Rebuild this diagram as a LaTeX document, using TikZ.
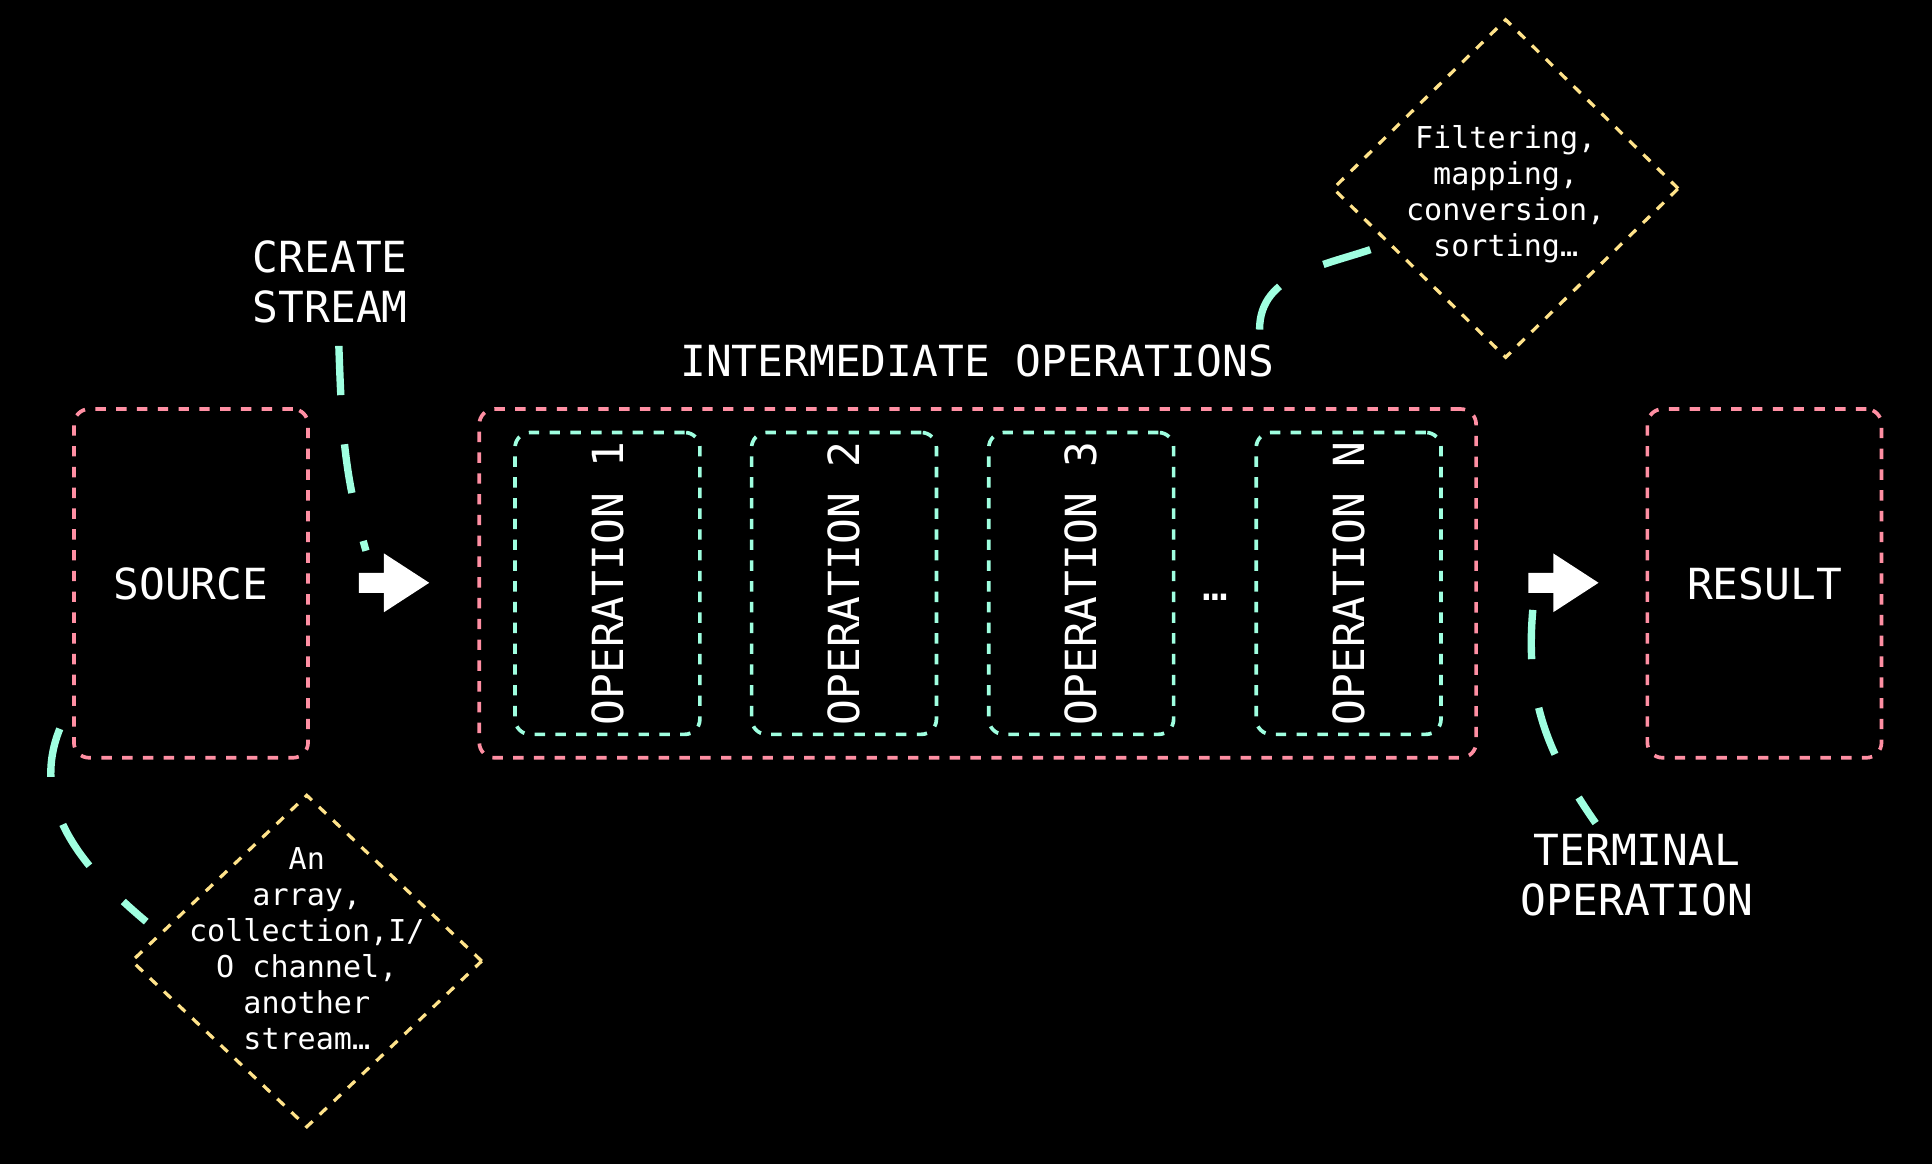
\documentclass[tikz,border=0pt]{standalone}
\usepackage{fontspec}
\setmonofont{DejaVu Sans Mono}
\usepackage{tikz}
\usetikzlibrary{shapes.geometric,shapes.arrows}
\definecolor{rosepink}{HTML}{FF8FA3}
\definecolor{mint}{HTML}{9FFFE0}
\definecolor{sand}{HTML}{FFE38A}
\newcommand{\stagefont}{\ttfamily\fontsize{19.8}{23}\selectfont}
\newcommand{\notefont}{\ttfamily\fontsize{13.9}{16.7}\selectfont}
\tikzset{
  stagebox/.style={draw=rosepink,line width=1.7pt,dash pattern=on 4.8pt off 4.8pt,rounded corners=7pt,minimum height=5.66cm,inner sep=0pt,text=white,font=\stagefont},
  opbox/.style={draw=mint,line width=1.7pt,dash pattern=on 4.8pt off 4.8pt,rounded corners=7pt,minimum width=3cm,minimum height=4.9cm},
  notebox/.style={diamond,draw=sand,line width=1.5pt,dash pattern=on 4.5pt off 4.5pt,inner sep=0pt},
  notetext/.style={text=white,align=center,font=\notefont,inner sep=0pt},
  caption/.style={text=white,align=center,inner sep=0pt,font=\stagefont},
  link/.style={draw=mint,line width=3.4pt,dash pattern=on 0.8cm off 0.8cm},
  flowarrow/.style={single arrow,fill=white,draw=none,inner xsep=0pt,inner ysep=0.155cm,minimum height=1.14cm,minimum width=0.94cm,single arrow head extend=0.315cm,single arrow tip angle=66}
}

\begin{document}
\begin{tikzpicture}
            \fill[black] (0,0) rectangle (31.36,18.9);
            \useasboundingbox (0,0) rectangle (31.36,18.9);

            % Source
            \node[stagebox,minimum width=3.8cm] (src) at (3.1,9.43) {SOURCE};
            \node[caption] (cs) at (5.36,14.32) {CREATE\\STREAM};
            \node[flowarrow,anchor=tail] (arr1) at (5.82,9.44) {};

            % Intermediate operations
            \node[stagebox,minimum width=16.18cm] (mid) at (15.87,9.43) {};
            \node[caption] (it) at (15.86,13.04) {INTERMEDIATE OPERATIONS};
            \node[opbox] (op1) at (9.86,9.43) {};
            \node[caption,rotate=90] at (op1.center) {OPERATION 1};
            \node[opbox] (op2) at (13.7,9.43) {};
            \node[caption,rotate=90] at (op2.center) {OPERATION 2};
            \node[opbox] (op3) at (17.55,9.43) {};
            \node[caption,rotate=90] at (op3.center) {OPERATION 3};
            \node[caption,anchor=base] (dots) at (19.72,9.16) {…};
            \node[opbox] (opn) at (21.89,9.43) {};
            \node[caption,rotate=90] at (opn.center) {OPERATION N};

            % Result
            \node[flowarrow,anchor=tail] (arr2) at (24.8,9.44) {};
            \node[stagebox,minimum width=3.8cm] (res) at (28.64,9.43) {RESULT};
            \node[caption] (tm) at (26.57,4.69) {TERMINAL\\OPERATION};

            % Notes
            \node[notebox,minimum width=5.7cm,minimum height=5.4cm] (d1) at (4.98,3.3) {};
            \node[notetext] (d1txt) at (4.98,3.5) {An\\array,\\collection,I/\\O channel,\\another\\stream…};
            \node[notebox,minimum width=5.62cm,minimum height=5.5cm] (d2) at (24.44,15.84) {};
            \node[notetext] (d2txt) at (24.44,15.75) {Filtering,\\mapping,\\conversion,\\sorting…};

            % Callout links
            \draw[link] ([xshift=1.4mm,yshift=-3.6mm]cs.south) to[out=-88,in=106] ([xshift=1.2mm,yshift=5.2mm]arr1.tail);
            \draw[link] ([xshift=-2mm,yshift=5mm]src.south west) to[out=-112,in=140] ([xshift=2.7mm,yshift=6.4mm]d1.west);
            \draw[link] ([xshift=-2.4mm,yshift=2.4mm]it.north east) to[out=90,in=200] ([xshift=7.9mm,yshift=-9.4mm]d2.west);
            \draw[link] ([xshift=0.8mm,yshift=-4.4mm]arr2.tail) to[out=-95,in=125] ([xshift=-6.7mm,yshift=1.8mm]tm.north);
        \end{tikzpicture}
\end{document}
